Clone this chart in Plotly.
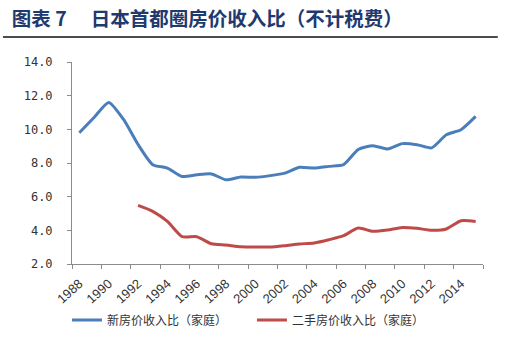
import plotly.graph_objects as go

years = list(range(1988, 2016))
new_house = [9.8, 10.7, 11.6, 10.6, 9.1, 7.9, 7.7, 7.2, 7.3, 7.35, 7.0, 7.17, 7.15,
             7.25, 7.4, 7.75, 7.7, 7.8, 7.9, 8.8, 9.03, 8.83, 9.15, 9.09, 8.9, 9.68, 9.98, 10.77]
second_years = list(range(1992, 2016))
second_house = [5.48, 5.13, 4.53, 3.62, 3.62, 3.2, 3.13, 3.03, 3.01, 3.01, 3.09, 3.19,
                3.25, 3.44, 3.68, 4.14, 3.94, 4.02, 4.17, 4.12, 4.0, 4.08, 4.57, 4.53]
label_years = list(range(1988, 2015, 2))
tick_labels = [str(y) for y in label_years]
boundaries = [y - 0.5 for y in range(1988, 2017, 2)]
y_ticks = [2, 4, 6, 8, 10, 12, 14]

title_text = "图表 7　 日本首都圈房价收入比（不计税费）"
name_new = "新房价收入比（家庭）"
name_second = "二手房价收入比（家庭）"

fig = go.Figure()
fig.add_trace(go.Scatter(x=years, y=new_house, mode="lines", name=name_new,
                         line=dict(color="#4A7EBB", width=3, shape="spline", smoothing=0.6)))
fig.add_trace(go.Scatter(x=second_years, y=second_house, mode="lines", name=name_second,
                         line=dict(color="#BE4B48", width=3, shape="spline", smoothing=0.6)))

fig.update_layout(
    width=515, height=339,
    margin=dict(l=72, r=32, t=62, b=75, autoexpand=False),
    paper_bgcolor="white", plot_bgcolor="white",
    font=dict(family="Noto Sans CJK SC", color="#333333"),
    showlegend=True,
    title=dict(text="<b>" + title_text + "</b>", xref="container", yref="container",
               x=0.023, y=0.942, xanchor="left", yanchor="middle",
               font=dict(size=19.5, color="#1F3A6E", family="Noto Sans CJK SC")),
    legend=dict(orientation="h", xref="container", yref="container",
                x=0.13, y=0.056, xanchor="left", yanchor="middle",
                font=dict(size=12, color="#333333", family="Noto Sans CJK SC"),
                entrywidth=140, entrywidthmode="pixels", itemwidth=30,
                bgcolor="rgba(0,0,0,0)"),
    shapes=[dict(type="line", xref="paper", yref="paper", x0=-0.168, x1=1.036,
                 y0=1.124, y1=1.124, line=dict(color="#111111", width=1.5))],
)

fig.update_xaxes(range=[1987.5, 2015.5], tickmode="array", tickvals=label_years,
                 ticktext=tick_labels, tickangle=-42, ticks="", showgrid=False,
                 automargin=False, ticklabelstandoff=6,
                 showline=True, linecolor="#8c8c8c", linewidth=1, zeroline=False,
                 tickfont=dict(size=13, family="Liberation Sans", color="#333333"),
                 minor=dict(tickmode="array", tickvals=boundaries, ticks="outside",
                            ticklen=4, tickcolor="#8c8c8c", showgrid=False))
fig.update_yaxes(range=[2, 14], tickmode="array", tickvals=y_ticks, tickformat=".1f",
                 ticks="outside", ticklen=4, tickcolor="#8c8c8c", showgrid=False,
                 automargin=False, ticklabelstandoff=12,
                 showline=True, linecolor="#8c8c8c", linewidth=1, zeroline=False,
                 tickfont=dict(size=12, family="DejaVu Sans Mono", color="#333333"))

fig.write_html("out.html")
